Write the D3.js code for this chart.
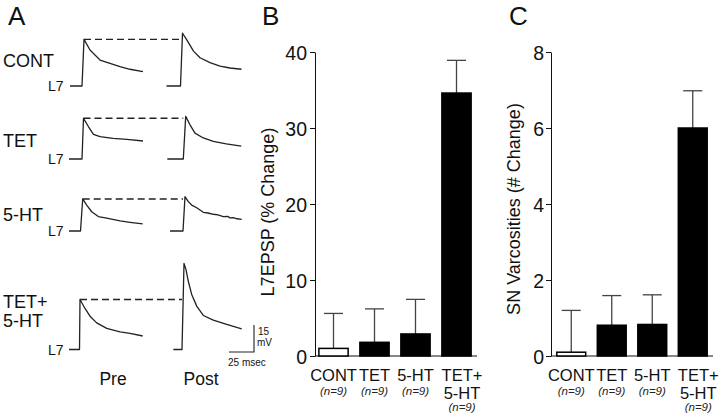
<!DOCTYPE html>
<html>
<head>
<meta charset="utf-8">
<script src="https://cdn.jsdelivr.net/npm/d3@7/dist/d3.min.js"></script>
<style>
  html, body { margin: 0; padding: 0; background: #fff; }
  svg { display: block; font-family: "Liberation Sans", Arial, Helvetica, sans-serif; }
</style>
</head>
<body>
<svg id="fig" width="720" height="414"></svg>
<script>
// ---------------- DATA ----------------
// Panel A: traces, [time (ms) from onset, depolarisation (mV)]
const rowLabels = [["CONT"], ["TET"], ["5-HT"], ["TET+", "5-HT"]];
const traceContPre  = [[-12,0],[0,0],[2,25.9],[8,20],[18,14.4],[28,12.6],[38,10.7],[48,9.3],[61,8.0]];
const traceContPost = [[-14,0],[0,0],[2,29.3],[6,25.9],[13,19.4],[19.5,15.7],[29.5,13.0],[39.5,11.1],[49.5,10.0],[61,9.3]];
const traceTetPre   = [[-13,0],[0,0],[1.5,22.6],[6.5,17.9],[11.5,13.7],[18,12.4],[31,11.5],[45,10.9],[61,10.0]];
const traceTetPost  = [[-16,0],[0,0],[2.4,23.7],[6.7,19.0],[11.7,14.4],[20,11.7],[30,9.8],[43,8.4],[58,7.1]];
const trace5htPre   = [[-11.5,0],[0,0],[2.2,17.8],[6.2,14.4],[11.2,10.7],[17.8,8.0],[26.2,7.1],[39.5,5.6],[49.5,4.8],[62.2,3.9]];
const trace5htPost  = [[-13,0],[0,0],[2,19.1],[5.3,16.3],[8.7,14.4],[13.7,12.9],[20.3,10.4],[25,10.0],[30.3,9.3],[35,8.9],[40.3,8.0],[45,8.1],[47,7.3],[50.3,7.4],[54,6.8],[58.7,6.5]];
const traceBothPre  = [[-10.5,0],[0,0],[0.5,27.8],[5.5,22.8],[10.5,18.5],[17.2,14.8],[27.2,11.7],[40.5,9.8],[50.5,8.9],[63.2,7.5]];
const traceBothPost = [[-8.7,0],[0,0],[2,47.8],[4,44.4],[6.3,37.9],[9.7,30.6],[14.7,24.1],[21.3,18.9],[31.3,16.3],[44.7,13.9],[59.7,11.5]];
const preTraces  = [traceContPre, traceTetPre, trace5htPre, traceBothPre];
const postTraces = [traceContPost, traceTetPost, trace5htPost, traceBothPost];
const scaleBarMs = 25, scaleBarMv = 15;

// Panels B and C
const categories = [["CONT"], ["TET"], ["5-HT"], ["TET+", "5-HT"]];
const nLabels = ["(n=9)", "(n=9)", "(n=9)", "(n=9)"];
const epspMean = [1.0, 1.8, 2.9, 34.6];
const epspSem  = [4.6, 4.4, 4.55, 4.3];
const epspTicks = [0, 10, 20, 30, 40];
const varMean = [0.1, 0.81, 0.83, 6.0];
const varSem  = [1.1, 0.78, 0.78, 0.98];
const varTicks = [0, 2, 4, 6, 8];
const fills = ["#fff", "#000", "#000", "#000"];

// ---------------- DRAW ----------------
const svg = d3.select("#fig");
const ink = "#111";

// Panel letters
[["A", 8], ["B", 262], ["C", 509]].forEach(([t, x]) => {
  svg.append("text").attr("x", x).attr("y", 25).attr("font-size", 26).attr("fill", ink).text(t);
});

// ---- Panel A ----
const msPx = d3.scaleLinear().domain([0, 1]).range([0, 1]);      // 1 ms = 1 px
const mvPx = d3.scaleLinear().domain([0, 1]).range([0, 1.8]);    // 1 mV = 1.8 px
const rowBase = [86, 159, 231, 349.5];
const preOn  = [82, 82, 80.5, 79.5];
const postOn = [180.5, 183.3, 183, 182];
const labelY = [[67], [147], [221], [308, 327]];

rowLabels.forEach((lines, i) => {
  lines.forEach((l, j) => {
    svg.append("text").attr("x", 3).attr("y", labelY[i][j]).attr("font-size", 18).attr("fill", ink).text(l);
  });
  svg.append("text").attr("x", 48).attr("y", rowBase[i] + 5).attr("font-size", 14).attr("fill", ink).text("L7");

  const mk = (x0) => d3.line().x(d => x0 + msPx(d[0])).y(d => rowBase[i] - mvPx(d[1]));
  svg.append("path").attr("d", mk(preOn[i])(preTraces[i])).attr("fill", "none")
    .attr("stroke", "#222").attr("stroke-width", 1.3).attr("stroke-linejoin", "round");
  svg.append("path").attr("d", mk(postOn[i])(postTraces[i])).attr("fill", "none")
    .attr("stroke", "#222").attr("stroke-width", 1.3).attr("stroke-linejoin", "round");

  const peak = preTraces[i].reduce((a, b) => b[1] > a[1] ? b : a);
  svg.append("line")
    .attr("x1", preOn[i] + msPx(peak[0])).attr("x2", postOn[i])
    .attr("y1", rowBase[i] - mvPx(peak[1])).attr("y2", rowBase[i] - mvPx(peak[1]))
    .attr("stroke", "#222").attr("stroke-width", 1.4).attr("stroke-dasharray", "7,4");
});

// scale bar
const sbX = 254, sbY = 352;
svg.append("path")
  .attr("d", `M${sbX - msPx(scaleBarMs)},${sbY}H${sbX}V${sbY - mvPx(scaleBarMv)}`)
  .attr("fill", "none").attr("stroke", "#222").attr("stroke-width", 1.1);
svg.append("text").attr("x", 258).attr("y", 335).attr("font-size", 10).attr("fill", ink).text(scaleBarMv);
svg.append("text").attr("x", 257).attr("y", 345.5).attr("font-size", 10).attr("fill", ink).text("mV");
svg.append("text").attr("x", 228).attr("y", 366).attr("font-size", 10).attr("fill", ink).text(scaleBarMs + " msec");
svg.append("text").attr("x", 113).attr("y", 385).attr("font-size", 17.5).attr("text-anchor", "middle").attr("fill", ink).text("Pre");
svg.append("text").attr("x", 201).attr("y", 385).attr("font-size", 17.5).attr("text-anchor", "middle").attr("fill", ink).text("Post");

// ---- Bar panels ----
function barPanel(opt) {
  const g = svg.append("g");
  const y = d3.scaleLinear().domain([0, opt.ticks[opt.ticks.length - 1]]).range([356, 52]);
  const x = d3.scaleBand().domain(d3.range(4)).range(opt.xRange).paddingInner(0.25).paddingOuter(0.125);
  const axisX = opt.xRange[0] + opt.axisShift;

  const ax = g.append("g").attr("transform", `translate(${axisX},0)`)
    .call(d3.axisLeft(y).tickValues(opt.ticks).tickSize(5).tickSizeOuter(0).tickPadding(opt.pad));
  ax.select(".domain").attr("stroke", ink);
  ax.selectAll(".tick line").attr("stroke", ink);
  ax.selectAll(".tick text").attr("font-size", 19.5).attr("fill", ink).attr("dy", "0.36em")
    .attr("font-family", "'Liberation Sans', Arial, sans-serif");

  g.append("line").attr("x1", axisX).attr("x2", opt.xRange[1])
    .attr("y1", y(0)).attr("y2", y(0)).attr("stroke", ink).attr("stroke-width", 1.2);

  const cx = i => x(i) + x.bandwidth() / 2;
  opt.mean.forEach((m, i) => {
    const top = y(m + opt.sem[i]);
    g.append("line").attr("x1", cx(i)).attr("x2", cx(i)).attr("y1", y(m)).attr("y2", top)
      .attr("stroke", "#444").attr("stroke-width", 1.3);
    g.append("line").attr("x1", cx(i) - 9.5).attr("x2", cx(i) + 9.5).attr("y1", top).attr("y2", top)
      .attr("stroke", "#444").attr("stroke-width", 1.3);
  });
  g.selectAll("rect.bar").data(opt.mean).join("rect").attr("class", "bar")
    .attr("x", (d, i) => x(i) + 0.75).attr("width", x.bandwidth() - 1.5)
    .attr("y", d => y(d)).attr("height", d => y(0) - y(d))
    .attr("fill", (d, i) => fills[i]).attr("stroke", "#000").attr("stroke-width", 1.5);

  categories.forEach((lines, i) => {
    const lx = cx(i) + (lines.length > 1 ? 5.5 : 0);
    lines.forEach((l, j) => {
      g.append("text").attr("x", lx).attr("y", 381 + j * 17.5).attr("text-anchor", "middle")
        .attr("font-size", 16.5).attr("fill", ink).text(l);
    });
    g.append("text").attr("x", lx).attr("y", lines.length > 1 ? 410.5 : 394.5).attr("text-anchor", "middle")
      .attr("font-size", 11.5).attr("font-style", "italic").attr("fill", "#222").text(nLabels[i]);
  });

  g.append("text").attr("transform", `translate(${opt.labelX},${opt.labelY}) rotate(-90)`)
    .attr("text-anchor", "middle").attr("font-size", 18).attr("fill", ink).text(opt.label);
}

barPanel({ xRange: [313, 477], axisShift: 2, pad: 3, ticks: epspTicks, mean: epspMean, sem: epspSem,
  label: "L7EPSP (% Change)", labelX: 274, labelY: 212 });
barPanel({ xRange: [551, 713], axisShift: 0, pad: 2, ticks: varTicks, mean: varMean, sem: varSem,
  label: "SN Varcosities (# Change)", labelX: 520, labelY: 209 });
</script>
</body>
</html>
